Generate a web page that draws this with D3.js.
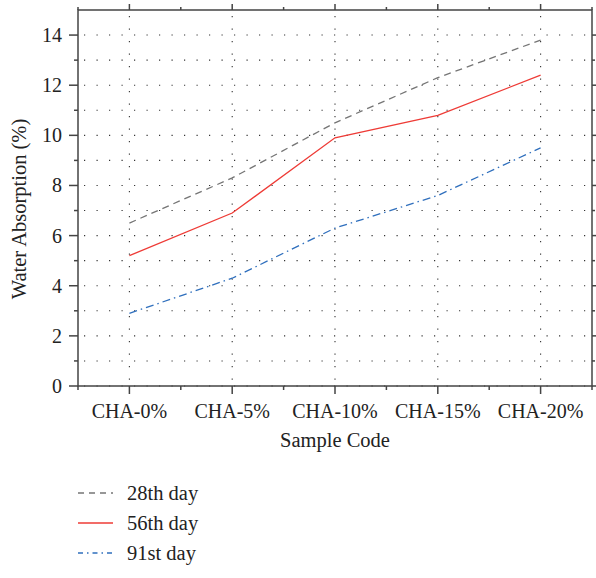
<!DOCTYPE html>
<html><head><meta charset="utf-8">
<script src="https://cdn.jsdelivr.net/npm/d3@7"></script>
<style>body{margin:0;background:#fff}svg{display:block}text{font-family:"Liberation Serif","Times New Roman",serif;fill:#222}</style>
</head><body><svg id="c" width="596" height="578"></svg>
<script>
const categories = ["CHA-0%","CHA-5%","CHA-10%","CHA-15%","CHA-20%"];
const day28 = [6.5, 8.3, 10.5, 12.3, 13.8];
const day56 = [5.2, 6.9, 9.9, 10.8, 12.4];
const day91 = [2.9, 4.3, 6.3, 7.6, 9.5];
const seriesNames = ["28th day","56th day","91st day"];
const yTicks = [0,2,4,6,8,10,12,14];

const svg = d3.select("#c");
const m = {l:78, r:592, t:10, b:386};
const x = d3.scalePoint().domain(categories).range([m.l, m.r]).padding(0.5);
const y = d3.scaleLinear().domain([0,15]).range([m.b, m.t]);
const step = x.step();
const minorY = d3.range(1,15,2);
const minorX = d3.range(0, categories.length+1).map(i => m.l + i*step);

// grid
const g = svg.append("g");
yTicks.concat(minorY).forEach(v => {
  g.append("line").attr("x1", m.l+6).attr("x2", m.r).attr("y1", y(v)).attr("y2", y(v))
   .attr("stroke","#333").attr("stroke-width",1.1).attr("stroke-dasharray","1.2,11.3");
});
categories.forEach(c => {
  g.append("line").attr("x1", x(c)).attr("x2", x(c)).attr("y1", m.t+6).attr("y2", m.b)
   .attr("stroke","#333").attr("stroke-width",1.1).attr("stroke-dasharray","1.2,11.3");
});

// series
const series = [
  {name: seriesNames[0], vals: day28, color:"#757575", dash:"7,5", w:1.3},
  {name: seriesNames[1], vals: day56, color:"#ee3b36", dash:null, w:1.3},
  {name: seriesNames[2], vals: day91, color:"#2f6fbd", dash:"8,4,1.5,4", w:1.3}
];
const line = d3.line().x((d,i)=>x(categories[i])).y(d=>y(d));
series.forEach(s => {
  svg.append("path").datum(s.vals).attr("d", line).attr("fill","none")
    .attr("stroke", s.color).attr("stroke-width", s.w)
    .attr("stroke-dasharray", s.dash);
});

// axes
const ax = svg.append("g").attr("stroke","#444").attr("stroke-width",1.5);
ax.append("rect").attr("x",m.l).attr("y",m.t).attr("width",m.r-m.l).attr("height",m.b-m.t).attr("fill","none");
yTicks.forEach(v => {
  ax.append("line").attr("x1",m.l-9).attr("x2",m.l).attr("y1",y(v)).attr("y2",y(v));
  ax.append("line").attr("x1",m.r).attr("x2",m.r+5).attr("y1",y(v)).attr("y2",y(v));
});
minorY.forEach(v => {
  ax.append("line").attr("x1",m.l-4).attr("x2",m.l).attr("y1",y(v)).attr("y2",y(v));
  ax.append("line").attr("x1",m.r).attr("x2",m.r+3).attr("y1",y(v)).attr("y2",y(v));
});
categories.forEach(c => {
  ax.append("line").attr("x1",x(c)).attr("x2",x(c)).attr("y1",m.b).attr("y2",m.b+8);
  ax.append("line").attr("x1",x(c)).attr("x2",x(c)).attr("y1",m.t).attr("y2",m.t-6);
});
minorX.forEach(v => {
  ax.append("line").attr("x1",v).attr("x2",v).attr("y1",m.b).attr("y2",m.b+4);
  ax.append("line").attr("x1",v).attr("x2",v).attr("y1",m.t).attr("y2",m.t-3);
});

// labels
yTicks.forEach(v => {
  svg.append("text").attr("x", m.l-16).attr("y", y(v)).attr("dy","0.35em")
    .attr("text-anchor","end").attr("font-size",20).text(v);
});
categories.forEach(c => {
  svg.append("text").attr("x", x(c)).attr("y", m.b+32)
    .attr("text-anchor","middle").attr("font-size",20).text(c);
});
svg.append("text").attr("x", (m.l+m.r)/2).attr("y", 447).attr("text-anchor","middle")
  .attr("font-size",20.5).text("Sample Code");
svg.append("text").attr("transform","translate(26,209) rotate(-90)")
  .attr("text-anchor","middle").attr("font-size",20.5).text("Water Absorption (%)");

// legend
series.forEach((s,i) => {
  const ly = 493 + i*30;
  svg.append("line").attr("x1",78).attr("x2",113).attr("y1",ly).attr("y2",ly)
    .attr("stroke",s.color).attr("stroke-width",1.3).attr("stroke-dasharray", s.dash ? (i===0?"6,5":"5,4,1.5,4") : null);
  svg.append("text").attr("x",127).attr("y",ly).attr("dy","0.35em").attr("font-size",20.5).text(s.name);
});
</script></body></html>
